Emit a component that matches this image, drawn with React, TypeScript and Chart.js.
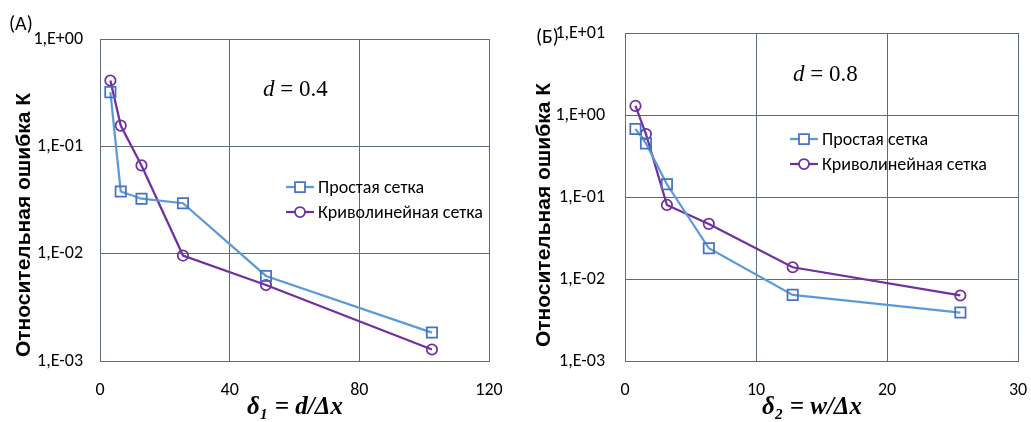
import React, { useEffect, useRef } from 'react';
import { Chart, registerables } from 'chart.js';

Chart.register(...registerables);

// ---------- DATA ----------
const seriesNames = ['Простая сетка', 'Криволинейная сетка'];

const xA = [3.2, 6.4, 12.8, 25.6, 51.2, 102.4];
const simpleA = [0.32, 0.038, 0.0325, 0.0295, 0.0062, 0.00184];
const curvedA = [0.41, 0.156, 0.0664, 0.0096, 0.0051, 0.00128];

const xB = [0.8, 1.6, 3.2, 6.4, 12.8, 25.6];
const simpleB = [0.676, 0.45, 0.143, 0.0237, 0.0064, 0.0039];
const curvedB = [1.29, 0.586, 0.08, 0.047, 0.0139, 0.0063];

const yTicksA = [1e-3, 1e-2, 1e-1, 1];
const yTickLabelsA = ['1,E-03', '1,E-02', '1,E-01', '1,E+00'];
const yTicksB = [1e-3, 1e-2, 1e-1, 1, 10];
const yTickLabelsB = ['1,E-03', '1,E-02', '1,E-01', '1,E+00', '1,E+01'];

const xMaxA = 120;
const xStepA = 40;
const xMaxB = 30;
const xStepB = 10;

// ---------- STYLE ----------
const SANS = "Carlito, 'Liberation Sans Narrow', 'Open Sans', sans-serif";
const TITLE_SANS = "'Liberation Sans', Arial, sans-serif";
const SERIF = "'Liberation Serif', 'DejaVu Serif', serif";
const GRID = '#5d6b80';
const BLUE_LINE = '#5B9BD5';
const BLUE_MARK = '#4472C4';
const PURPLE = '#7030A0';

type Panel = {
  xs: number[];
  simple: number[];
  curved: number[];
  yTicks: number[];
  yLabels: string[];
  xMax: number;
  xStep: number;
  width: number;
  pad: { top: number; right: number };
  yWidth: number;
  yPad: number;
  label: string;
  labelPos: [number, number];
  ann: string;
  annPos: [number, number];
  yTitlePos: [number, number];
  xTitle: string;
  xTitlePos: [number, number];
  legendPos: [number, number, number];
};

function drawMarker(ctx: CanvasRenderingContext2D, kind: string, x: number, y: number, color: string) {
  ctx.save();
  ctx.strokeStyle = color;
  ctx.lineWidth = 1.75;
  ctx.beginPath();
  if (kind === 'rect') {
    ctx.rect(x - 5, y - 5, 10, 10);
  } else {
    ctx.arc(x, y, 5, 0, Math.PI * 2);
  }
  ctx.fillStyle = '#ffffff';
  ctx.fill();
  ctx.stroke();
  ctx.restore();
}

function makeOverlay(p: Panel) {
  return {
    id: 'overlay',
    afterDraw(chart: any) {
      const ctx: CanvasRenderingContext2D = chart.ctx;
      ctx.save();
      ctx.fillStyle = '#000';
      // panel label
      ctx.font = `20px ${SANS}`;
      ctx.textAlign = 'left';
      ctx.textBaseline = 'middle';
      ctx.fillText(p.label, p.labelPos[0], p.labelPos[1]);

      // annotation d = ...
      ctx.font = `italic 23px ${SERIF}`;
      ctx.fillText('d', p.annPos[0], p.annPos[1]);
      const dw = ctx.measureText('d').width;
      ctx.font = `23px ${SERIF}`;
      ctx.fillText(' = ' + p.ann, p.annPos[0] + dw, p.annPos[1]);

      // y title
      ctx.save();
      ctx.translate(p.yTitlePos[0], p.yTitlePos[1]);
      ctx.rotate(-Math.PI / 2);
      ctx.font = `bold 21px ${TITLE_SANS}`;
      ctx.textAlign = 'center';
      ctx.fillText('Относительная ошибка К', 0, 0);
      ctx.restore();

      // x title
      ctx.font = `bold italic 25px ${SERIF}`;
      ctx.textAlign = 'center';
      ctx.fillText(p.xTitle, p.xTitlePos[0], p.xTitlePos[1]);

      // legend
      const [lx, ly, gap] = p.legendPos;
      const ds = chart.data.datasets;
      ds.forEach((d: any, i: number) => {
        const y = ly + i * gap;
        ctx.strokeStyle = d.borderColor;
        ctx.lineWidth = 2.25;
        ctx.beginPath();
        ctx.moveTo(lx, y);
        ctx.lineTo(lx + 28, y);
        ctx.stroke();
        drawMarker(ctx, d.pointStyle, lx + 14, y, d.pointBorderColor);
        ctx.fillStyle = '#000';
        ctx.font = `18px ${SANS}`;
        ctx.textAlign = 'left';
        ctx.fillText(seriesNames[i], lx + 32, y + 1);
      });
      ctx.restore();
    },
  };
}

function makeConfig(p: Panel): any {
  return {
    type: 'line',
    data: {
      datasets: [
        {
          label: seriesNames[0],
          data: p.xs.map((x, i) => ({ x, y: p.simple[i] })),
          borderColor: BLUE_LINE,
          borderWidth: 2.25,
          pointStyle: 'rect',
          pointRadius: 7.3,
          pointBorderColor: BLUE_MARK,
          pointBackgroundColor: 'rgba(255,255,255,0)',
          pointBorderWidth: 1.75,
          tension: 0,
        },
        {
          label: seriesNames[1],
          data: p.xs.map((x, i) => ({ x, y: p.curved[i] })),
          borderColor: PURPLE,
          borderWidth: 2.25,
          pointStyle: 'circle',
          pointRadius: 5.2,
          pointBorderColor: PURPLE,
          pointBackgroundColor: 'rgba(255,255,255,0)',
          pointBorderWidth: 1.75,
          tension: 0,
        },
      ],
    },
    options: {
      responsive: false,
      animation: false,
      layout: { padding: { left: 0, top: p.pad.top, right: p.pad.right, bottom: 0 } },
      plugins: { legend: { display: false }, tooltip: { enabled: false } },
      scales: {
        x: {
          type: 'linear',
          min: 0,
          max: p.xMax,
          ticks: { stepSize: p.xStep, color: '#000', padding: 19, font: { family: SANS, size: 18 } },
          grid: { color: GRID, drawTicks: false, lineWidth: 1 },
          border: { color: GRID, width: 1 },
          afterFit: (s: any) => {
            s.height = 61;
            s.paddingLeft = 0;
            s.paddingRight = 0;
          },
        },
        y: {
          type: 'logarithmic',
          min: p.yTicks[0],
          max: p.yTicks[p.yTicks.length - 1],
          afterBuildTicks: (s: any) => {
            s.ticks = p.yTicks.map((v) => ({ value: v }));
          },
          ticks: {
            color: '#000',
            padding: p.yPad,
            font: { family: SANS, size: 18 },
            callback: (_v: any, i: number) => p.yLabels[i],
          },
          grid: { color: GRID, drawTicks: false, lineWidth: 1 },
          border: { color: GRID, width: 1 },
          afterFit: (s: any) => {
            s.width = p.yWidth;
            s.paddingTop = 0;
            s.paddingBottom = 0;
          },
        },
      },
    },
    plugins: [makeOverlay(p)],
  };
}

const panelA: Panel = {
  xs: xA,
  simple: simpleA,
  curved: curvedA,
  yTicks: yTicksA,
  yLabels: yTickLabelsA,
  xMax: xMaxA,
  xStep: xStepA,
  width: 515,
  pad: { top: 39, right: 26 },
  yWidth: 100,
  yPad: 17,
  label: '(A)',
  labelPos: [9, 25],
  ann: '0.4',
  annPos: [263, 90],
  yTitlePos: [24, 225],
  xTitle: 'δ₁ = d/Δx',
  xTitlePos: [295, 408],
  legendPos: [286, 187, 25],
};

const panelB: Panel = {
  xs: xB,
  simple: simpleB,
  curved: curvedB,
  yTicks: yTicksB,
  yLabels: yTickLabelsB,
  xMax: xMaxB,
  xStep: xStepB,
  width: 516,
  pad: { top: 33, right: 13 },
  yWidth: 110,
  yPad: 20,
  label: '(Б)',
  labelPos: [21, 38],
  ann: '0.8',
  annPos: [278, 75],
  yTitlePos: [29, 215],
  xTitle: 'δ₂ = w/Δx',
  xTitlePos: [297, 408],
  legendPos: [275, 139, 25],
};

function ChartPanel({ p, left }: { p: Panel; left: number }) {
  const ref = useRef<HTMLCanvasElement | null>(null);
  useEffect(() => {
    if (!ref.current) return;
    const chart = new Chart(ref.current, makeConfig(p));
    return () => chart.destroy();
  }, [p]);
  return (
    <canvas
      ref={ref}
      width={p.width}
      height={422}
      style={{ position: 'absolute', left, top: 0, width: p.width, height: 422 }}
    />
  );
}

export default function App() {
  return (
    <div style={{ position: 'absolute', left: 0, top: 0, width: 1031, height: 422, background: '#fff' }}>
      <ChartPanel p={panelA} left={0} />
      <ChartPanel p={panelB} left={515} />
    </div>
  );
}
